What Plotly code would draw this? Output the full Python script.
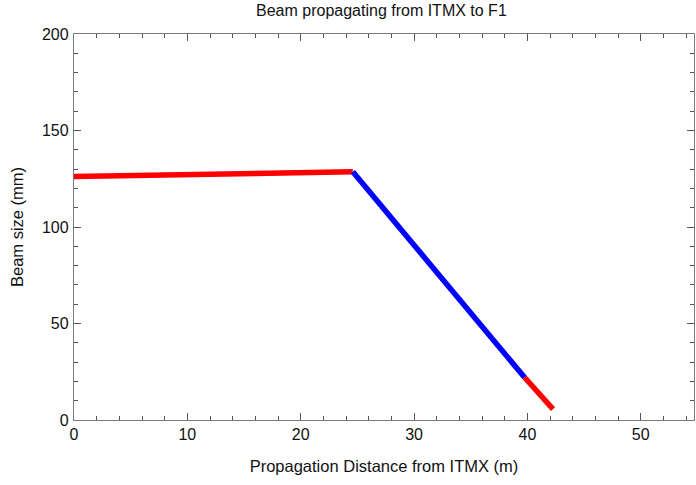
import plotly.graph_objects as go

# Beam size along the path from ITMX to F1 (distance in m, size in mm)
seg1_x = [0.0, 24.6]
seg1_y = [126.2, 128.6]
seg2_x = [24.6, 39.76]
seg2_y = [128.6, 22.0]
seg3_x = [39.76, 42.26]
seg3_y = [22.0, 5.6]

x_ticks = [0, 10, 20, 30, 40, 50]
y_ticks = [0, 50, 100, 150, 200]

font_family = "Liberation Sans, Arial, sans-serif"

fig = go.Figure()
for xs, ys, col in [(seg1_x, seg1_y, "#ff0000"),
                    (seg2_x, seg2_y, "#0000ff"),
                    (seg3_x, seg3_y, "#ff0000")]:
    fig.add_trace(go.Scatter(x=xs, y=ys, mode="lines",
                             line=dict(color=col, width=5.5),
                             showlegend=False, hoverinfo="skip"))

axis_common = dict(
    showgrid=False, zeroline=False,
    showline=True, linecolor="#7a7a7a", linewidth=1.3, mirror="allticks",
    ticks="inside", ticklen=7, tickwidth=1, tickcolor="#555555",
    tickfont=dict(family=font_family, size=16, color="#111111"),
)

fig.update_xaxes(
    range=[0, 54.7], tickvals=x_ticks,
    minor=dict(ticks="inside", dtick=2, ticklen=4, tickcolor="#555555", tickwidth=1),
    title=dict(text="Propagation Distance from ITMX (m)",
               font=dict(family=font_family, size=16.5, color="#111111"), standoff=18),
    **axis_common,
)
fig.update_yaxes(
    range=[0, 200], tickvals=y_ticks,
    minor=dict(ticks="inside", dtick=10, ticklen=4, tickcolor="#555555", tickwidth=1),
    title=dict(text="Beam size (mm)",
               font=dict(family=font_family, size=16.5, color="#111111"), standoff=14),
    ticklabelstandoff=1,
    **axis_common,
)

fig.update_layout(
    width=696, height=485,
    margin=dict(l=74, r=2, t=34, b=65),
    paper_bgcolor="white", plot_bgcolor="white",
    title=dict(text="Beam propagating from ITMX to F1", x=0.548, xanchor="center",
               y=0.99, yanchor="top",
               font=dict(family=font_family, size=16, color="#111111")),
)

fig.write_html("out.html")
